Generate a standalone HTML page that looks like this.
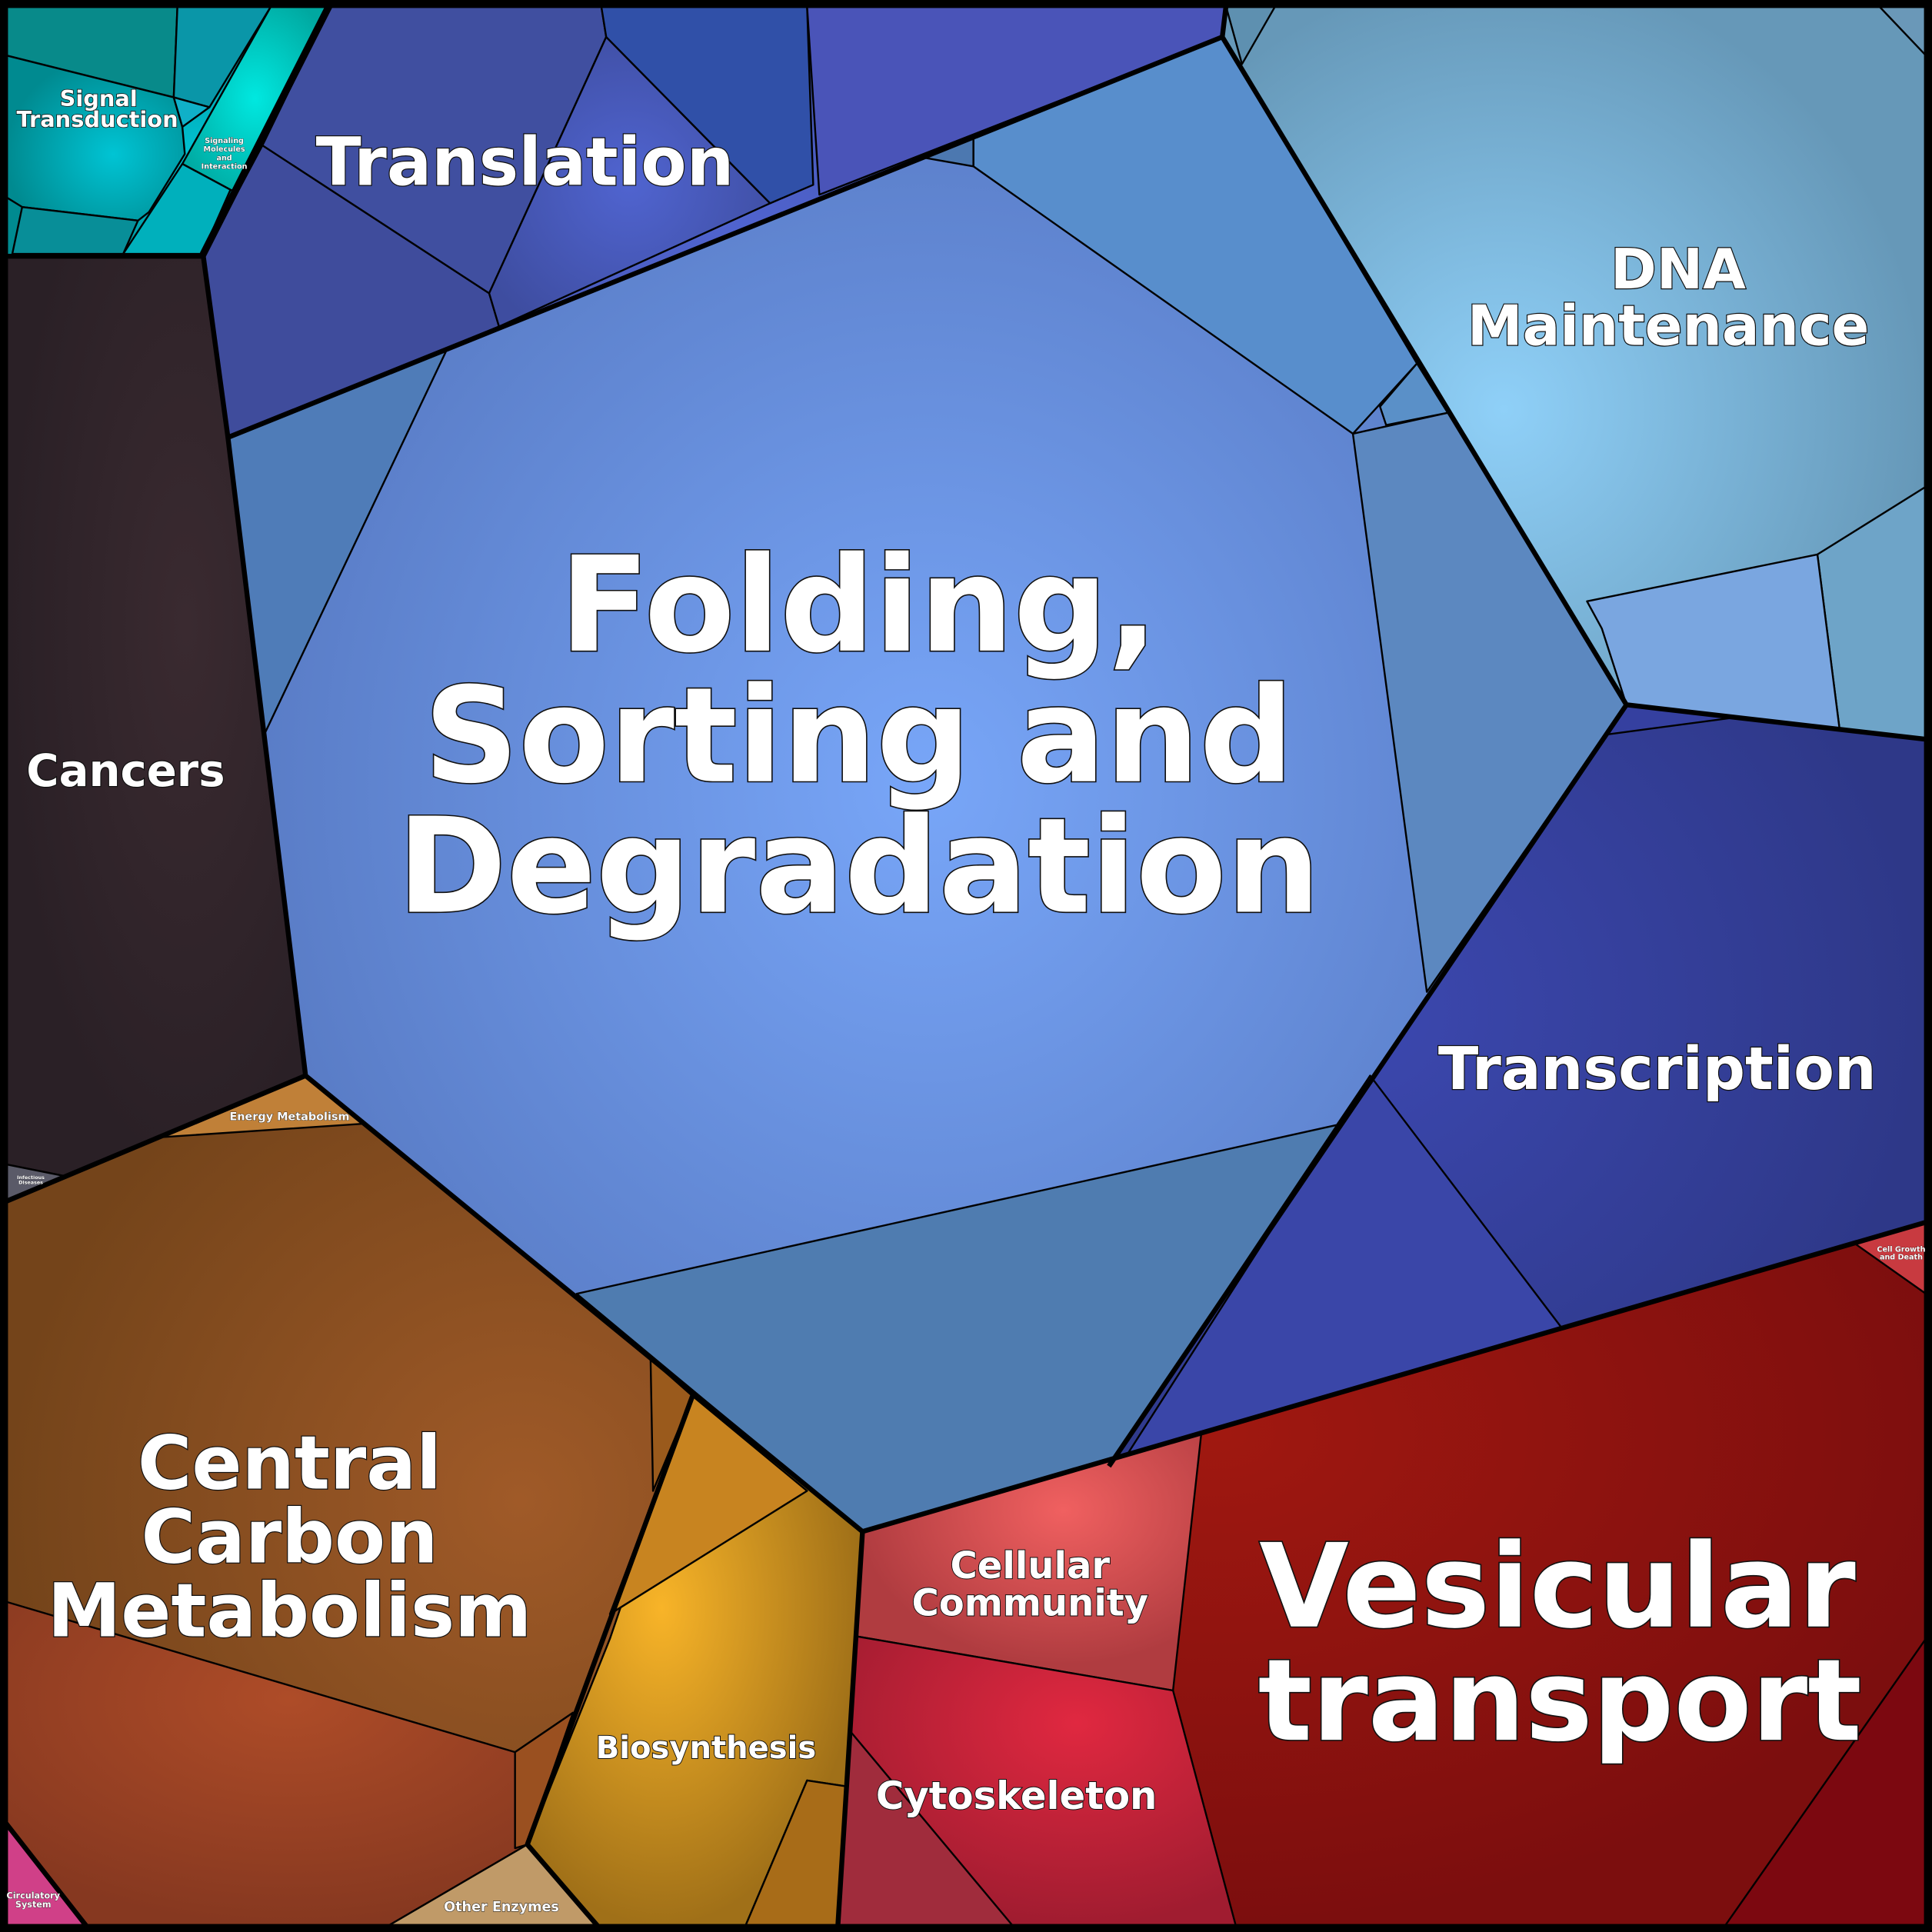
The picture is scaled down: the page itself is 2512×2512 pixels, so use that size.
<!DOCTYPE html>
<html><head><meta charset="utf-8">
<style>
html,body{margin:0;padding:0;background:#000;}
svg{display:block;}
text{font-family:"DejaVu Sans","Liberation Sans",sans-serif;font-weight:bold;fill:#fff;stroke:#111;paint-order:stroke;text-anchor:middle;}
</style></head>
<body>
<svg width="2512" height="2512" viewBox="0 0 1568 1568" xmlns="http://www.w3.org/2000/svg">
<defs>
<radialGradient id="gFold" cx="0.5" cy="0.5" r="0.6"><stop offset="0" stop-color="#78a6f8"/><stop offset="1" stop-color="#5272ba"/></radialGradient>
<radialGradient id="gDNA" cx="0.4" cy="0.55" r="0.6"><stop offset="0" stop-color="#8fd0f8"/><stop offset="1" stop-color="#6698b8"/></radialGradient>
<radialGradient id="gTr" cx="0.5" cy="0.5" r="0.6"><stop offset="0" stop-color="#5064d0"/><stop offset="1" stop-color="#3e4da0"/></radialGradient>
<radialGradient id="gTs" cx="0.3" cy="0.4" r="0.7"><stop offset="0" stop-color="#3c48b0"/><stop offset="1" stop-color="#2e3888"/></radialGradient>
<radialGradient id="gSig" cx="0.6" cy="0.6" r="0.6"><stop offset="0" stop-color="#00c4d4"/><stop offset="1" stop-color="#008a90"/></radialGradient>
<radialGradient id="gSig2" cx="0.5" cy="0.5" r="0.6"><stop offset="0" stop-color="#00e8e0"/><stop offset="1" stop-color="#00a8a0"/></radialGradient>
<radialGradient id="gCan" cx="0.6" cy="0.4" r="0.6"><stop offset="0" stop-color="#3a2a30"/><stop offset="1" stop-color="#2a2026"/></radialGradient>
<radialGradient id="gCCM" cx="0.6" cy="0.5" r="0.6"><stop offset="0" stop-color="#a05a28"/><stop offset="1" stop-color="#74441a"/></radialGradient>
<radialGradient id="gCCM2" cx="0.5" cy="0.3" r="0.7"><stop offset="0" stop-color="#ae4c28"/><stop offset="1" stop-color="#863820"/></radialGradient>
<radialGradient id="gBio" cx="0.4" cy="0.4" r="0.6"><stop offset="0" stop-color="#f8b428"/><stop offset="1" stop-color="#a07018"/></radialGradient>
<radialGradient id="gVes" cx="0.35" cy="0.3" r="0.7"><stop offset="0" stop-color="#a01810"/><stop offset="1" stop-color="#7c0e0e"/></radialGradient>
<radialGradient id="gCom" cx="0.6" cy="0.3" r="0.6"><stop offset="0" stop-color="#f06060"/><stop offset="1" stop-color="#b03c40"/></radialGradient>
<radialGradient id="gCyt" cx="0.6" cy="0.3" r="0.7"><stop offset="0" stop-color="#e02840"/><stop offset="1" stop-color="#a01c30"/></radialGradient>
</defs>
<rect width="1568" height="1568" fill="#000"/>
<g stroke="#000" stroke-width="1.5" stroke-linejoin="round">
<!-- Signal transduction -->
<polygon points="5,5 268,5 165,208 5,208" fill="url(#gSig)"/>
<polygon points="5,5 144,5 141,79 5,45" fill="#088a8a"/>
<polygon points="144,5 220,5 170,87 141,79" fill="#0a96a8"/>
<polygon points="5,45 141,79 148,103 150,125 121,172 112,179 18,168 5,160" fill="url(#gSig)"/>
<polygon points="141,79 170,87 148,103" fill="#10b0c8"/>
<polygon points="220,5 266,5 190,155 187,154 148,133" fill="url(#gSig2)"/>
<polygon points="148,133 187,154 164,206 100,206" fill="#00b0bc"/>
<polygon points="18,168 112,179 100,206 10,206" fill="#088e98"/>
<!-- Translation -->
<polygon points="268,5 995,5 992,30 185,355 165,208" fill="url(#gTr)"/>
<polygon points="213,118 397,238 405,265 185,355 165,208" fill="#3f4c9c"/>
<polygon points="488,5 492,30 397,238 213,118 268,5" fill="#404fa0"/>
<polygon points="492,30 625,165 405,265 397,238" fill="url(#gTr)"/>
<polygon points="488,5 655,5 660,150 625,165 492,30" fill="#3050a8"/>
<polygon points="655,5 995,5 992,30 665,158" fill="#4a54b8"/>
<!-- DNA Maintenance -->
<polygon points="995,5 1563,5 1563,600 1320,572 992,30" fill="url(#gDNA)"/>
<polygon points="995,5 1035,5 1008,52" fill="#5e90b0"/>
<polygon points="1475,450 1563,395 1563,600 1493,592" fill="#6ea4c8"/>
<polygon points="1288,488 1475,450 1493,592 1320,572 1300,510" fill="#7aa6e0"/>
<polygon points="1525,5 1563,5 1563,45" fill="#6a98b8"/>
<!-- Folding -->
<polygon points="185,355 992,30 1320,572 900,1190 700,1243 248,873" fill="url(#gFold)"/>
<polygon points="185,355 363,283 215,595" fill="#4f7cb8"/>
<polygon points="790,110 992,30 1150,295 1098,352 790,135" fill="#588ecc"/>
<polygon points="1098,352 1175,335 1320,572 1158,805" fill="#5c88c0"/>
<polygon points="1085,913 1112,873 900,1190 700,1243 468,1050" fill="#4f7cb0"/>
<polygon points="750,128 790,110 790,135" fill="#4c78b0"/>
<polygon points="1120,330 1150,295 1175,335 1125,345" fill="#5a90c8"/>
<!-- Transcription -->
<polygon points="1320,572 1563,600 1563,992 900,1190" fill="url(#gTs)"/>
<polygon points="1112,873 1270,1081 910,1188" fill="#3a46a8"/>
<polygon points="1320,572 1410,582 1305,596" fill="#3540a0"/>
<!-- Cancers -->
<polygon points="5,208 165,208 185,355 248,873 55,955 5,945" fill="url(#gCan)"/>
<polygon points="5,945 55,955 10,975 5,975" fill="#5a5a68"/>
<!-- Metabolism -->
<polygon points="5,975 248,873 700,1243 680,1563 5,1563" fill="url(#gCCM)"/>
<polygon points="248,873 295,912 130,923" fill="#c08038"/>
<polygon points="5,1300 418,1422 465,1390 428,1497 315,1563 70,1563 5,1480" fill="url(#gCCM2)"/>
<polygon points="418,1422 465,1390 428,1497 418,1500" fill="#9a5020"/>
<polygon points="528,1103 562,1133 530,1210" fill="#9a5a1c"/>
<polygon points="562,1133 700,1243 688,1450 655,1445 605,1563 485,1563 428,1497 495,1330" fill="url(#gBio)"/>
<polygon points="562,1133 655,1210 495,1310" fill="#c88420"/>
<polygon points="655,1445 688,1450 680,1563 605,1563" fill="#a86c18"/>
<polygon points="428,1497 485,1563 315,1563" fill="#c09a68"/>
<polygon points="5,1480 70,1563 5,1563" fill="#d04088"/>
<!-- Red cellular processes -->
<polygon points="700,1243 1563,992 1563,1563 680,1563" fill="url(#gVes)"/>
<polygon points="700,1243 975,1163 952,1372 695,1328" fill="url(#gCom)"/>
<polygon points="695,1328 952,1372 1003,1563 680,1563" fill="url(#gCyt)"/>
<polygon points="690,1405 822,1563 680,1563" fill="#a02c3c"/>
<polygon points="1563,1330 1563,1563 1400,1563" fill="#7c0810"/>
<polygon points="1505,1009 1563,993 1563,1050" fill="#c83a40"/>
</g>
<!-- thick top-level borders -->
<g fill="none" stroke="#000" stroke-width="4" stroke-linejoin="round">
<polyline points="268,5 165,208 5,208"/>
<polyline points="165,208 185,355 992,30 995,5"/>
<polyline points="992,30 1320,572 1563,600"/>
<polyline points="1320,572 900,1190"/>
<polyline points="1563,992 700,1243 248,873 185,355"/>
<polyline points="248,873 5,975"/>
<polyline points="700,1243 680,1563"/>
<polyline points="562,1133 428,1497 485,1563"/>
<polyline points="5,1480 70,1563"/>
<polyline points="266,5 164,206"/>
</g>
<rect x="3" y="3" width="1562" height="1562" fill="none" stroke="#000" stroke-width="7"/>
<!-- labels -->
<text x="697" y="528" font-size="107" stroke-width="2">Folding,</text>
<text x="697" y="634" font-size="107" stroke-width="2">Sorting and</text>
<text x="697" y="740" font-size="107" stroke-width="2">Degradation</text>
<text x="426" y="150" font-size="54" stroke-width="1.5">Translation</text>
<text x="1362" y="234" font-size="45" stroke-width="1.5">DNA</text>
<text x="1354" y="280" font-size="45" stroke-width="1.5">Maintenance</text>
<text x="1345" y="884" font-size="48" stroke-width="1.5">Transcription</text>
<text x="102" y="638" font-size="36" stroke-width="1.5">Cancers</text>
<text x="235" y="1208" font-size="60" stroke-width="1.5">Central</text>
<text x="235" y="1268" font-size="60" stroke-width="1.5">Carbon</text>
<text x="235" y="1328" font-size="60" stroke-width="1.5">Metabolism</text>
<text x="1264" y="1320" font-size="94" stroke-width="2">Vesicular</text>
<text x="1266" y="1412" font-size="92" stroke-width="2">transport</text>
<text x="836" y="1281" font-size="30" stroke-width="1.2">Cellular</text>
<text x="836" y="1311" font-size="30" stroke-width="1.2">Community</text>
<text x="825" y="1468" font-size="31" stroke-width="1.2">Cytoskeleton</text>
<text x="573" y="1427" font-size="25" stroke-width="1.2">Biosynthesis</text>
<text x="80" y="86" font-size="18" stroke-width="1">Signal</text>
<text x="79" y="103" font-size="18" stroke-width="1">Transduction</text>
<text x="182" y="116" font-size="6" stroke-width="0.4">Signaling</text>
<text x="182" y="123" font-size="6" stroke-width="0.4">Molecules</text>
<text x="182" y="130" font-size="6" stroke-width="0.4">and</text>
<text x="182" y="137" font-size="6" stroke-width="0.4">Interaction</text>
<text x="235" y="909" font-size="9" stroke-width="0.5">Energy Metabolism</text>
<text x="407" y="1551" font-size="11" stroke-width="0.6">Other Enzymes</text>
<text x="27" y="1541" font-size="7" stroke-width="0.4">Circulatory</text>
<text x="27" y="1548" font-size="7" stroke-width="0.4">System</text>
<text x="25" y="957" font-size="4" stroke-width="0.2">Infectious</text>
<text x="25" y="961" font-size="4" stroke-width="0.2">Diseases</text>
<text x="1543" y="1016" font-size="6" stroke-width="0.3">Cell Growth</text>
<text x="1543" y="1022" font-size="6" stroke-width="0.3">and Death</text>
</svg>
</body></html>
